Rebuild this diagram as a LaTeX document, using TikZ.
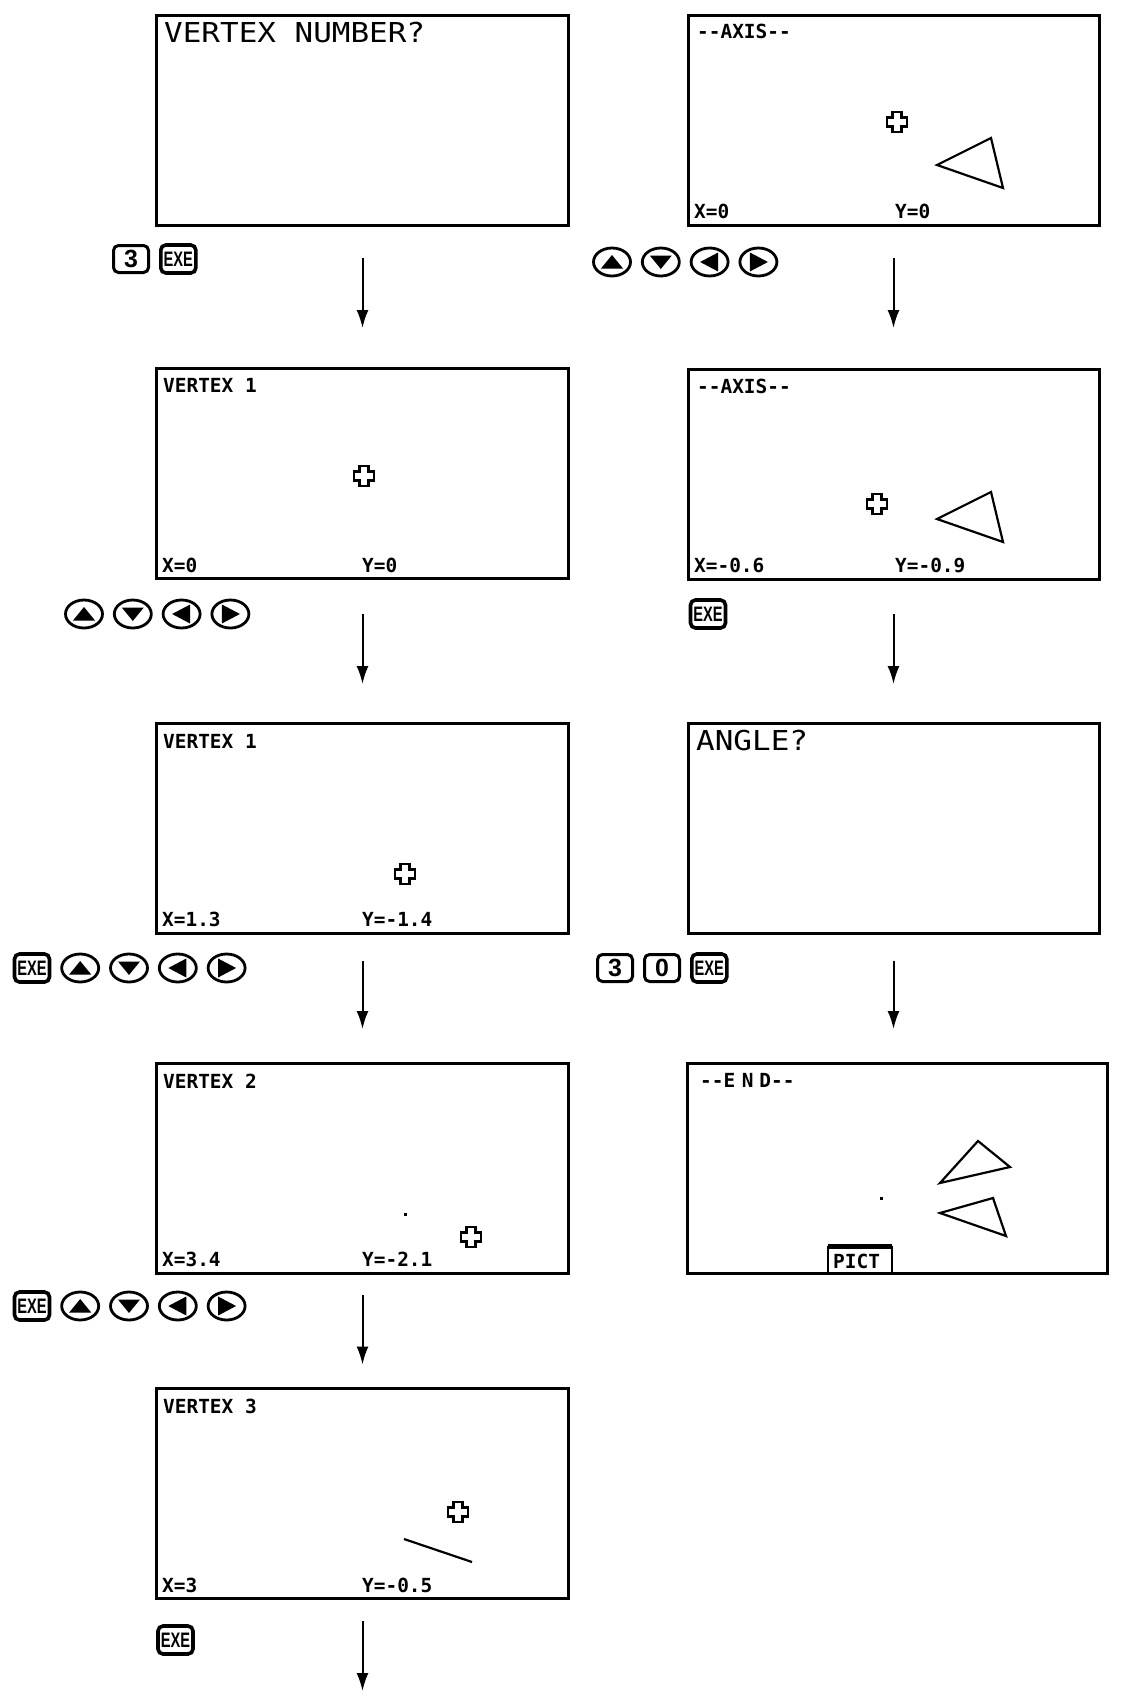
\documentclass[tikz,border=0pt]{standalone}
\usepackage{fontspec}
\usepackage{graphicx}
\usetikzlibrary{positioning, arrows.meta, shapes.geometric}
\newfontfamily\lcdfont{DejaVu Sans Mono}
\newfontfamily\keyfont{Liberation Sans}

\tikzset{
  screen/.style={draw, line width=3bp, minimum width=411bp, minimum height=210bp, inner sep=0pt},
  lcd/.style={inner sep=0pt, anchor=base west, font={\lcdfont\bfseries\fontsize{19.5}{20}\selectfont}},
  lcdbig/.style={inner sep=0pt, anchor=base west, font={\lcdfont\fontsize{27.5}{28}\selectfont}},
  cursor/.style={line width=2.8bp, line join=miter},
  figure/.style={line width=2.2bp},
  flow/.style={draw, line width=2bp, -{Latex[length=18bp, width=12bp]}},
  numkey/.style={draw, rounded corners=5bp, line width=3bp, minimum width=35bp, minimum height=27bp,
                 inner sep=0pt, font={\keyfont\bfseries\fontsize{25}{25}\selectfont}},
  exekey/.style={numkey, line width=3.6bp, minimum width=35bp, minimum height=28bp,
                 font={\keyfont\bfseries\fontsize{21}{21}\selectfont}},
  padkey/.style={draw, ellipse, line width=2.8bp, minimum width=37bp, minimum height=28bp, inner sep=0pt}
}

% four cursor keys in a row: name, placement of the first one
\newcommand{\padkeys}[2]{%
  \node[padkey, #2] (#1u) {};
  \node[padkey, right=of #1u] (#1d) {};
  \node[padkey, right=of #1d] (#1l) {};
  \node[padkey, right=of #1l] (#1r) {};
  \fill (#1u) ++(0,-7) -- ++(11,13.5) -- ++(-22,0) -- cycle;
  \fill (#1d) ++(0,7) -- ++(11,-13.5) -- ++(-22,0) -- cycle;
  \fill (#1l) ++(-9.5,0) -- ++(18,-9.5) -- ++(0,19) -- cycle;
  \fill (#1r) ++(9.5,0) -- ++(-18,-9.5) -- ++(0,19) -- cycle;
}
\newcommand{\exe}{\scalebox{0.7}[1]{EXE}}

\begin{document}
\begin{tikzpicture}[x=1bp, y=-1bp, node distance=9bp]
    \useasboundingbox (0,0) rectangle (1123,1698);

    % screens
    \node[screen] (l1) at (362.5,120.5) {};
    \node[screen] (l2) at (362.5,473) {};
    \node[screen] (l3) at (362.5,828.5) {};
    \node[screen] (l4) at (362.5,1168.5) {};
    \node[screen] (l5) at (362.5,1493.5) {};
    \node[screen] (r1) at (893.5,120.5) {};
    \node[screen] (r2) at (893.5,474.5) {};
    \node[screen] (r3) at (893.5,828) {};
    \node[screen, minimum width=420bp] (r4) at (897,1168) {};

    % screen texts
    \node[lcdbig] (t1)  at (164,42)    {\scalebox{1.13}[1]{VERTEX NUMBER?}};
    \node[lcd]    (t2)  at (163,392)   {VERTEX 1};
    \node[lcd]    (x2)  at (162,572)   {X=0};
    \node[lcd]    (y2)  at (362,572)   {Y=0};
    \node[lcd]    (t3)  at (163,748)   {VERTEX 1};
    \node[lcd]    (x3)  at (162,926)   {X=1.3};
    \node[lcd]    (y3)  at (362,926)   {Y=-1.4};
    \node[lcd]    (t4)  at (163,1088)  {VERTEX 2};
    \node[lcd]    (x4)  at (162,1266)  {X=3.4};
    \node[lcd]    (y4)  at (362,1266)  {Y=-2.1};
    \node[lcd]    (t5)  at (163,1413)  {VERTEX 3};
    \node[lcd]    (x5)  at (162,1592)  {X=3};
    \node[lcd]    (y5)  at (362,1592)  {Y=-0.5};
    \node[lcd]    (t6)  at (697,38)    {-{}-AXIS-{}-};
    \node[lcd]    (x6)  at (694,218)   {X=0};
    \node[lcd]    (y6)  at (895,218)   {Y=0};
    \node[lcd]    (t7)  at (697,393)   {-{}-AXIS-{}-};
    \node[lcd]    (x7)  at (694,572)   {X=-0.6};
    \node[lcd]    (y7)  at (895,572)   {Y=-0.9};
    \node[lcdbig] (t8)  at (696,750)   {\scalebox{1.13}[1]{ANGLE?}};
    \node[lcd]    (t9)  at (700,1087)  {-{}-E\hspace{-5bp} N\hspace{-6bp} D-{}-};

    % cursors
    \foreach \cx/\cy in {364/476, 405/874, 471/1237, 458/1512, 897/122, 877/504}
        \draw[cursor, shift={(\cx,\cy)}] (-4.5,-10) -- (4.5,-10) -- (4.5,-4.5) -- (10,-4.5) -- (10,4.5)
            -- (4.5,4.5) -- (4.5,10) -- (-4.5,10) -- (-4.5,4.5) -- (-10,4.5) -- (-10,-4.5) -- (-4.5,-4.5) -- cycle;

    % drawn figures
    \draw[figure] (937,165) -- (991,138) -- (1003,188) -- cycle;
    \draw[figure] (937,519) -- (991,492) -- (1003,542) -- cycle;
    \draw[figure] (940,1183) -- (978,1141) -- (1010,1167) -- cycle;
    \draw[figure] (940,1213) -- (993,1198) -- (1006,1236) -- cycle;
    \draw[figure] (404,1539) -- (472,1562);
    \fill (403.5,1212.5) rectangle ++(3,3);
    \fill (879.5,1196.5) rectangle ++(3,3);

    % PICT tab
    \draw[line width=2.8bp] (828,1273) -- (828,1247) -- (892,1247) -- (892,1273);
    \fill (828,1243.5) rectangle (892,1249);
    \node[lcd] (pict) at (833,1268) {PICT};

    % keys
    \node[numkey] (k3a) at (131,259) {3};
    \node[exekey, right=of k3a] (ex1) {\exe};
    \padkeys{pa}{at={(612,262)}}
    \padkeys{pb}{at={(84,614)}}
    \node[exekey] (ex2) at (708,614) {\exe};
    \node[exekey] (ex3) at (32,968) {\exe};
    \padkeys{pc}{right=of ex3}
    \node[numkey] (k3b) at (615,968) {3};
    \node[numkey, right=of k3b] (k0) {0};
    \node[exekey, right=of k0] (ex4) {\exe};
    \node[exekey] (ex5) at (32,1306) {\exe};
    \padkeys{pd}{right=of ex5}
    \node[exekey] (ex6) at (175.5,1640) {\exe};

    % flow
    \coordinate (tail) at (362.5,1691);
    \draw[flow] (l1) edge[shorten <=31bp, shorten >=38.5bp] (l2)
                (l2) edge[shorten <=34.5bp, shorten >=38bp] (l3)
                (l3) edge[shorten <=26bp, shorten >=33bp] (l4)
                (l4) edge[shorten <=20bp, shorten >=22.5bp] (l5)
                (l5) edge[shorten <=21bp] (tail)
                (r1) edge[shorten <=31bp, shorten >=40bp] (r2)
                (r2) edge[shorten <=33bp, shorten >=37.5bp] (r3)
                (r3) edge[shorten <=26.5bp, shorten >=32.5bp] (r3 |- r4.north);
\end{tikzpicture}
\end{document}
